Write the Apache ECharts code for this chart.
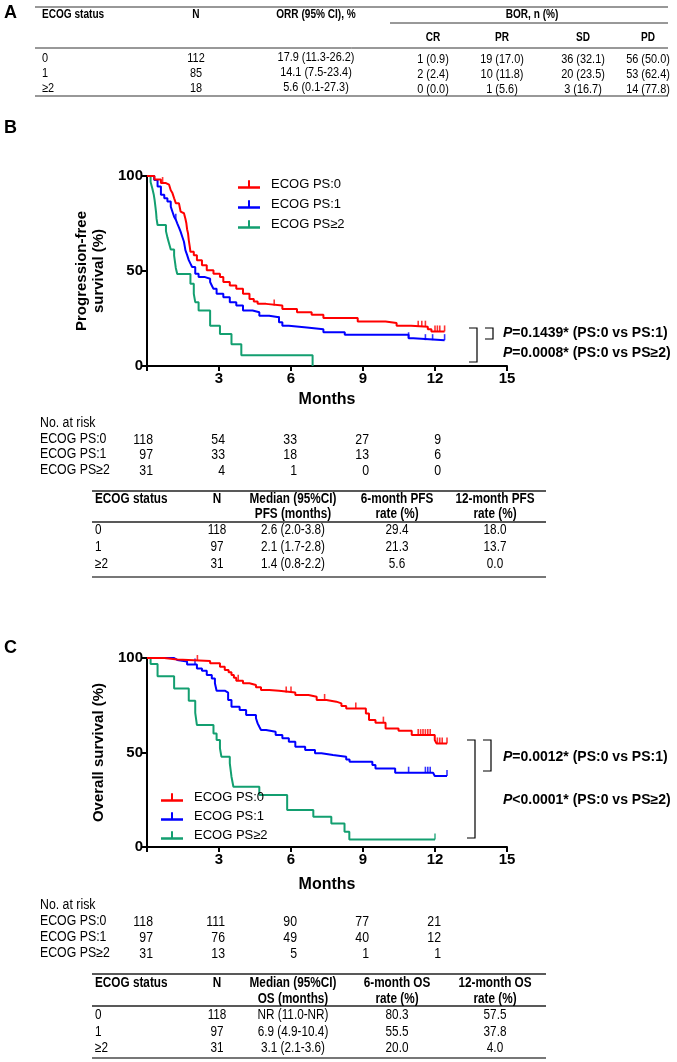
<!DOCTYPE html>
<html><head><meta charset="utf-8">
<script src="https://cdn.jsdelivr.net/npm/echarts@6/dist/echarts.min.js"></script>
<style>html,body{margin:0;padding:0;background:#fff}#c{width:677px;height:1062px}</style>
</head><body><div id="c"></div>
<script>
// ---------- DATA ----------
const groups = ['ECOG PS:0', 'ECOG PS:1', 'ECOG PS\u22652'];
const statusLabels = ['0', '1', '\u22652'];
// Table A
const tableA_N = ['112', '85', '18'];
const tableA_ORR = ['17.9 (11.3-26.2)', '14.1 (7.5-23.4)', '5.6 (0.1-27.3)'];
const tableA_CR = ['1 (0.9)', '2 (2.4)', '0 (0.0)'];
const tableA_PR = ['19 (17.0)', '10 (11.8)', '1 (5.6)'];
const tableA_SD = ['36 (32.1)', '20 (23.5)', '3 (16.7)'];
const tableA_PD = ['56 (50.0)', '53 (62.4)', '14 (77.8)'];
// PFS curves (time in months, survival %)
const pfsT0 = [0,0.31,0.58,0.79,0.92,0.99,1.06,1.13,1.2,1.33,1.4,1.47,1.54,1.6,1.64,1.67,1.71,1.74,1.78,1.81,1.95,2.08,2.29,2.49,2.77,3.04,3.18,3.45,3.72,4.0,4.27,4.45,4.61,4.96,5.64,6.25,6.86,7.35,8.78,9.94,10.4,11.0,11.7,11.85,12.4];
const pfsS0 = [100,98.1,96.3,95.4,94.5,92.5,91.0,88.3,85.7,84.8,81.3,80.4,79.5,77.5,75.1,72.0,69.8,66.3,63.0,60.1,58.3,55.7,53.0,50.4,48.6,46.8,44.2,42.4,40.6,38.0,35.3,34.0,32.7,31.8,30.0,28.3,27.0,25.3,23.4,22.6,21.2,20.7,19.4,18.2,18.2];
const pfsT1 = [0,0.3,0.44,0.58,0.72,0.85,0.99,1.06,1.13,1.2,1.26,1.33,1.4,1.47,1.54,1.6,1.67,1.74,1.81,1.88,2.01,2.15,2.42,2.63,2.7,2.77,2.9,3.18,3.45,3.72,4.0,4.4,4.68,5.09,5.5,5.64,5.91,6.66,7.35,8.24,10.9,11.1,12.4];
const pfsS1 = [100,97.9,94.5,90.1,88.3,86.6,83.9,81.2,78.6,77.0,75.1,73.0,70.7,68.0,65.4,61.0,58.5,55.7,53.9,52.1,48.6,46.8,45.9,44.2,42.4,40.6,38.0,36.2,33.6,31.8,29.2,28.3,26.5,25.6,23.0,21.2,20.3,19.4,17.7,16.4,14.6,13.6,13.6];
const pfsT2 = [0,0.15,0.22,0.28,0.32,0.35,0.38,0.4,0.44,0.79,0.85,0.92,0.99,1.13,1.2,1.26,1.81,1.95,2.01,2.15,2.63,3.04,3.52,3.93,6.9];
const pfsS2 = [100,96.8,93.5,90.3,87.1,83.9,80.6,77.4,74.2,71.0,67.7,64.5,61.3,58.1,51.6,48.4,43.3,38.0,33.6,29.2,21.2,16.8,11.5,5.7,0];
const pfsCens0 = [0.65,5.3,11.3,11.45,11.6,12.0,12.1,12.2,12.4];
const pfsCens1 = [1.2,5.5,10.9,11.6,11.9,12.4];
const pfsCens2 = [];
// OS curves
const osT0 = [0,0.72,1.26,2.63,3.04,3.24,3.4,3.52,3.62,3.72,4.0,4.27,4.54,4.75,5.09,5.5,6.18,6.73,7.07,7.48,7.89,8.1,8.3,9.12,9.25,9.52,9.94,10.48,11.03,11.99,12.06,12.5];
const osS0 = [100,99.2,98.4,97.2,95.4,93.7,92.4,91.0,89.5,88.0,86.6,85.7,84.5,83.1,82.7,81.7,80.4,79.5,77.8,76.9,76.0,74.6,73.3,70.7,67.2,65.8,62.7,61.5,59.2,56.6,54.8,54.8];
const osT1 = [0,1.13,1.26,1.67,2.08,2.29,2.49,2.7,2.83,2.9,3.24,3.38,3.52,3.86,4.13,4.54,4.61,4.68,4.75,4.96,5.36,5.64,5.91,6.18,6.59,7.0,7.27,7.75,8.3,8.44,9.39,9.52,10.34,11.92,11.99,12.5];
const osS1 = [100,99.0,98.2,96.5,94.5,93.3,91.0,89.2,86.6,82.7,81.7,77.8,74.2,72.5,69.8,68.1,65.4,63.6,61.9,61.0,59.3,57.5,55.7,53.1,51.3,49.6,48.7,47.7,46.3,45.1,43.4,41.6,39.3,38.6,37.6,37.6];
const osT2 = [0,0.15,0.44,1.13,1.74,2.01,2.08,2.77,2.9,3.04,3.1,3.45,3.52,3.6,4.68,5.84,6.93,7.68,8.23,8.43,12.0];
const osS2 = [100,96.8,90.3,83.9,77.4,71.0,64.5,60.1,56.6,52.2,47.8,44.3,37.2,31.9,27.5,19.6,16.0,12.5,8.1,4.0,4.0];
const osCens0 = [2.1,3.8,5.8,6.0,7.4,8.7,9.85,11.3,11.4,11.5,11.6,11.7,11.8,12.1,12.2,12.3,12.5];
const osCens1 = [2.0,10.9,11.6,11.7,11.8,12.5];
const osCens2 = [12.0];
// Risk tables
const riskTimes = [0, 3, 6, 9, 12];
const pfsRisk = [[118,54,33,27,9],[97,33,18,13,6],[31,4,1,0,0]];
const osRisk = [[118,111,90,77,21],[97,76,49,40,12],[31,13,5,1,1]];
// Summary tables
const pfsN = ['118','97','31'];
const pfsMedian = ['2.6 (2.0-3.8)','2.1 (1.7-2.8)','1.4 (0.8-2.2)'];
const pfs6 = ['29.4','21.3','5.6'];
const pfs12 = ['18.0','13.7','0.0'];
const osN = ['118','97','31'];
const osMedian = ['NR (11.0-NR)','6.9 (4.9-10.4)','3.1 (2.1-3.6)'];
const os6 = ['80.3','55.5','20.0'];
const os12 = ['57.5','37.8','4.0'];
const pfsP = ['=0.1439* (PS:0 vs PS:1)', '=0.0008* (PS:0 vs PS\u22652)'];
const osP = ['=0.0012* (PS:0 vs PS:1)', '<0.0001* (PS:0 vs PS\u22652)'];

// ---------- STYLE ----------
const colors = ['#ff0000', '#0000ff', '#139f70'];
const SANS = "'Liberation Sans',Arial,sans-serif";
const legendIcon = 'path://M0,6H22V8.5H0Z M10,0H12V8.5H10Z';

function survAt(T, S, t) { let v = S[0]; for (let i = 0; i < T.length; i++) { if (T[i] <= t) v = S[i]; } return v; }
function pairs(T, S) { return T.map((t, i) => [t, S[i]]); }

const chart = echarts.init(document.getElementById('c'), null, {renderer: 'canvas'});

function axesFor(gi) {
  return {
    x: {gridIndex: gi, type: 'value', min: 0, max: 15, interval: 3,
      axisLine: {lineStyle: {color: '#000', width: 2}},
      axisTick: {length: 5, lineStyle: {color: '#000', width: 2}},
      axisLabel: {formatter: v => v === 0 ? '' : String(v), color: '#000', fontWeight: 'bold', fontSize: 15, fontFamily: SANS, margin: 5},
      splitLine: {show: false},
      name: 'Months', nameLocation: 'middle', nameGap: gi === 0 ? 26 : 30,
      nameTextStyle: {color: '#000', fontWeight: 'bold', fontSize: 16, fontFamily: SANS}},
    y: {gridIndex: gi, type: 'value', min: 0, max: 100, interval: 50,
      axisLine: {show: true, lineStyle: {color: '#000', width: 2}},
      axisTick: {show: true, length: 5, lineStyle: {color: '#000', width: 2}},
      axisLabel: {color: '#000', fontWeight: 'bold', fontSize: 15, fontFamily: SANS, margin: 4},
      splitLine: {show: false},
      name: gi === 0 ? 'Progression-free\nsurvival (%)' : 'Overall survival (%)',
      nameLocation: 'middle', nameGap: gi === 0 ? 34 : 36, nameRotate: 90,
      nameTextStyle: {color: '#000', fontWeight: 'bold', fontSize: 15, fontFamily: SANS, lineHeight: 17}}
  };
}
const a0 = axesFor(0), a1 = axesFor(1);

const curveSets = [
  [[pfsT0, pfsS0, pfsCens0], [pfsT1, pfsS1, pfsCens1], [pfsT2, pfsS2, pfsCens2]],
  [[osT0, osS0, osCens0], [osT1, osS1, osCens1], [osT2, osS2, osCens2]]
];
const series = [];
curveSets.forEach((set, gi) => {
  set.forEach((c, k) => {
    series.push({type: 'line', name: groups[k], xAxisIndex: gi, yAxisIndex: gi, step: 'end', showSymbol: false, symbol: 'none',
      data: pairs(c[0], c[1]), lineStyle: {width: 2, color: colors[k]}, itemStyle: {color: colors[k]}, z: 5 - k, silent: true});
  });
  set.forEach((c, k) => {
    series.push({type: 'scatter', name: groups[k], xAxisIndex: gi, yAxisIndex: gi, symbol: 'rect', symbolSize: [1.6, 6], symbolOffset: [0, -3],
      data: c[2].map(t => [t, survAt(c[0], c[1], t)]), itemStyle: {color: colors[k]}, z: 5 - k, silent: true});
  });
});

const legendBase = {orient: 'vertical', selectedMode: false, icon: legendIcon, itemWidth: 22, itemHeight: 8.5,
  textStyle: {fontSize: 13, fontFamily: SANS, color: '#000', padding: [0, 0, 0, 6]}, data: groups};

chart.setOption({
  animation: false,
  backgroundColor: '#fff',
  grid: [{left: 147, top: 176, width: 360, height: 190}, {left: 147, top: 658, width: 360, height: 189}],
  xAxis: [a0.x, a1.x],
  yAxis: [a0.y, a1.y],
  legend: [Object.assign({left: 233, top: 173, itemGap: 7}, legendBase), Object.assign({left: 156, top: 786, itemGap: 6}, legendBase)],
  series: series
});

// ---------- GRAPHIC (tables, labels) ----------
const NX = 0.84; // horizontal condensation for narrow table font
function txt(x, y, text, o) {
  o = o || {};
  return {type: 'text', x: x, y: y, silent: true, z: 10, scaleX: o.sx || NX,
    style: {text: text, fill: '#000', fontSize: o.size || 13, fontWeight: o.bold ? 'bold' : 'normal', fontFamily: SANS,
      align: o.align || 'left', verticalAlign: 'middle'}};
}
function hline(x1, x2, y, w, c) { return {type: 'line', silent: true, shape: {x1: x1, y1: y, x2: x2, y2: y}, style: {stroke: c || '#222', lineWidth: w || 1}}; }
function bracket(x1, x2, y1, y2) { return {type: 'polyline', silent: true, shape: {points: [[x1, y1], [x2, y1], [x2, y2], [x1, y2]]}, style: {stroke: '#000', lineWidth: 1.2, fill: null}}; }
function pText(x, y, rest) {
  return {type: 'text', x: x, y: y, silent: true,
    style: {text: '{i|P}' + rest, fill: '#000', fontSize: 14, fontWeight: 'bold', fontFamily: SANS, verticalAlign: 'middle',
      rich: {i: {fontStyle: 'italic', fontWeight: 'bold', fontSize: 14, fontFamily: SANS, fill: '#000'}}}};
}

const g = [];
// Panel A
g.push(txt(4, 13, 'A', {size: 18, bold: true, sx: 1}));
g.push(hline(35, 668, 7, 1.2, '#333'));
g.push(txt(42, 15, 'ECOG status', {bold: true, size: 12}));
g.push(txt(196, 15, 'N', {bold: true, size: 12, align: 'center'}));
g.push(txt(316, 15, 'ORR (95% CI), %', {bold: true, size: 12, align: 'center'}));
g.push(txt(532, 15, 'BOR, n (%)', {bold: true, size: 12, align: 'center'}));
g.push(hline(390, 668, 23, 1, '#333'));
const colA = [433, 502, 583, 648];
['CR', 'PR', 'SD', 'PD'].forEach((h, i) => g.push(txt(colA[i], 38, h, {bold: true, size: 12, align: 'center'})));
g.push(hline(35, 668, 48, 1, '#333'));
const rowsA = [58, 73, 88];
statusLabels.forEach((s, i) => {
  const y = rowsA[i];
  g.push(txt(42, y, s, {size: 13}));
  g.push(txt(196, y, tableA_N[i], {size: 13, align: 'center'}));
  g.push(txt(316, y - 1, tableA_ORR[i], {size: 13, align: 'center'}));
  [tableA_CR, tableA_PR, tableA_SD, tableA_PD].forEach((arr, j) => g.push(txt(colA[j], y + 1, arr[i], {size: 13, align: 'center'})));
});
g.push(hline(35, 668, 96, 1.2, '#333'));

// Panel B
g.push(txt(4, 128, 'B', {size: 18, bold: true, sx: 1}));
g.push(bracket(469, 477, 328, 362));
g.push(bracket(485, 493, 328, 339));
g.push(pText(503, 333, pfsP[0]));
g.push(pText(503, 353, pfsP[1]));

function riskTable(gi, yTitle, yRows, data) {
  g.push(txt(40, yTitle, 'No. at risk', {size: 14, sx: 0.88}));
  groups.forEach((name, k) => {
    g.push(txt(40, yRows[k], name, {size: 14, sx: 0.88}));
    riskTimes.forEach((t, j) => {
      const px = chart.convertToPixel({xAxisIndex: gi}, t);
      g.push(txt(px + 6, yRows[k] + 1, String(data[k][j]), {size: 14, sx: 0.88, align: 'right'}));
    });
  });
}
riskTable(0, 423, [439, 454, 470], pfsRisk);

function summaryTable(yTop, yH1, yH2, yUnder, yRows, yBottom, label, N, med, six, twelve) {
  const cx = [217, 293, 397, 495];
  g.push(hline(92, 546, yTop, 1.5, '#222'));
  g.push(txt(95, yH1, 'ECOG status', {bold: true, size: 14}));
  g.push(txt(cx[0], yH1, 'N', {bold: true, size: 14, align: 'center'}));
  g.push(txt(cx[1], yH1, 'Median (95%CI)', {bold: true, size: 14, align: 'center'}));
  g.push(txt(cx[2], yH1, '6-month ' + label, {bold: true, size: 14, align: 'center'}));
  g.push(txt(cx[3], yH1, '12-month ' + label, {bold: true, size: 14, align: 'center'}));
  g.push(txt(cx[1], yH2, label + ' (months)', {bold: true, size: 14, align: 'center'}));
  g.push(txt(cx[2], yH2, 'rate (%)', {bold: true, size: 14, align: 'center'}));
  g.push(txt(cx[3], yH2, 'rate (%)', {bold: true, size: 14, align: 'center'}));
  g.push(hline(92, 546, yUnder, 1.5, '#222'));
  statusLabels.forEach((s, i) => {
    const y = yRows[i];
    g.push(txt(95, y, s, {size: 14}));
    g.push(txt(cx[0], y, N[i], {size: 14, align: 'center'}));
    g.push(txt(cx[1], y, med[i], {size: 14, align: 'center'}));
    g.push(txt(cx[2], y, six[i], {size: 14, align: 'center'}));
    g.push(txt(cx[3], y, twelve[i], {size: 14, align: 'center'}));
  });
  g.push(hline(92, 546, yBottom, 2, '#777'));
}
summaryTable(491, 499, 514, 522, [530, 547, 564], 577, 'PFS', pfsN, pfsMedian, pfs6, pfs12);

// Panel C
g.push(txt(4, 648, 'C', {size: 18, bold: true, sx: 1}));
g.push(bracket(467, 475, 740, 838));
g.push(bracket(483, 491, 740, 771));
g.push(pText(503, 757, osP[0]));
g.push(pText(503, 800, osP[1]));
riskTable(1, 905, [921, 937, 953], osRisk);
summaryTable(974, 983, 999, 1006, [1015, 1032, 1048], 1058, 'OS', osN, osMedian, os6, os12);

chart.setOption({graphic: {elements: g}});
</script>
</body></html>
